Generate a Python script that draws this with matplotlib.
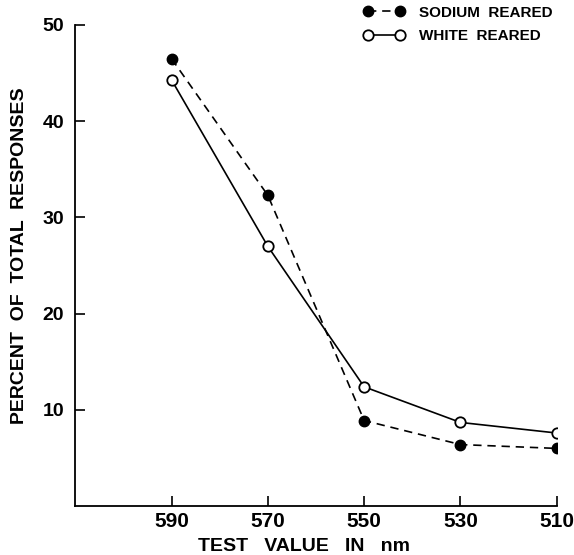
import matplotlib.pyplot as plt

plt.rcParams['font.family'] = ['Liberation Sans', 'DejaVu Sans']
plt.rcParams['font.weight'] = 'bold'

wavelengths = [590, 570, 550, 530, 510]
sodium_reared = [46.5, 32.3, 8.9, 6.4, 6.0]
white_reared = [44.3, 27.0, 12.4, 8.7, 7.6]
y_ticks = [10, 20, 30, 40, 50]

fig = plt.figure(figsize=(5.74, 5.55), dpi=100)
ax = fig.add_axes([0.131, 0.088, 0.839, 0.867])

ax.plot(wavelengths, sodium_reared, color='black', linestyle=(0, (5, 3.5)), linewidth=1.2,
        marker='o', markersize=7.5, markerfacecolor='black', markeredgecolor='black',
        label='SODIUM  REARED')
ax.plot(wavelengths, white_reared, color='black', linestyle='-', linewidth=1.2,
        marker='o', markersize=7.5, markerfacecolor='white', markeredgecolor='black',
        markeredgewidth=1.3, label='WHITE  REARED')

ax.set_xlim(610, 510)  # reversed axis
ax.set_ylim(0, 50)
ax.set_xticks(wavelengths)
ax.set_yticks(y_ticks)
ax.tick_params(direction='in', length=7, width=1.2)
ax.tick_params(axis='x', pad=4, labelsize=15)
ax.tick_params(axis='y', pad=8, labelsize=14)

for side in ['top', 'right']:
    ax.spines[side].set_visible(False)
for side in ['left', 'bottom']:
    ax.spines[side].set_linewidth(1.3)

ax.set_xlabel('TEST   VALUE   IN   nm', fontsize=14, fontweight='bold')
ax.set_ylabel('PERCENT  OF  TOTAL  RESPONSES', fontsize=14, fontweight='bold')
ax.xaxis.set_label_coords(0.476, -0.066)
ax.yaxis.set_label_coords(-0.098, 0.52)

fig.legend(loc='upper right', bbox_to_anchor=(0.962, 0.99), frameon=False, fontsize=11,
           numpoints=2, handlelength=2.7, handletextpad=0.9, labelspacing=0.65,
           borderaxespad=0, borderpad=0)

fig.savefig('out.png', dpi=100)
